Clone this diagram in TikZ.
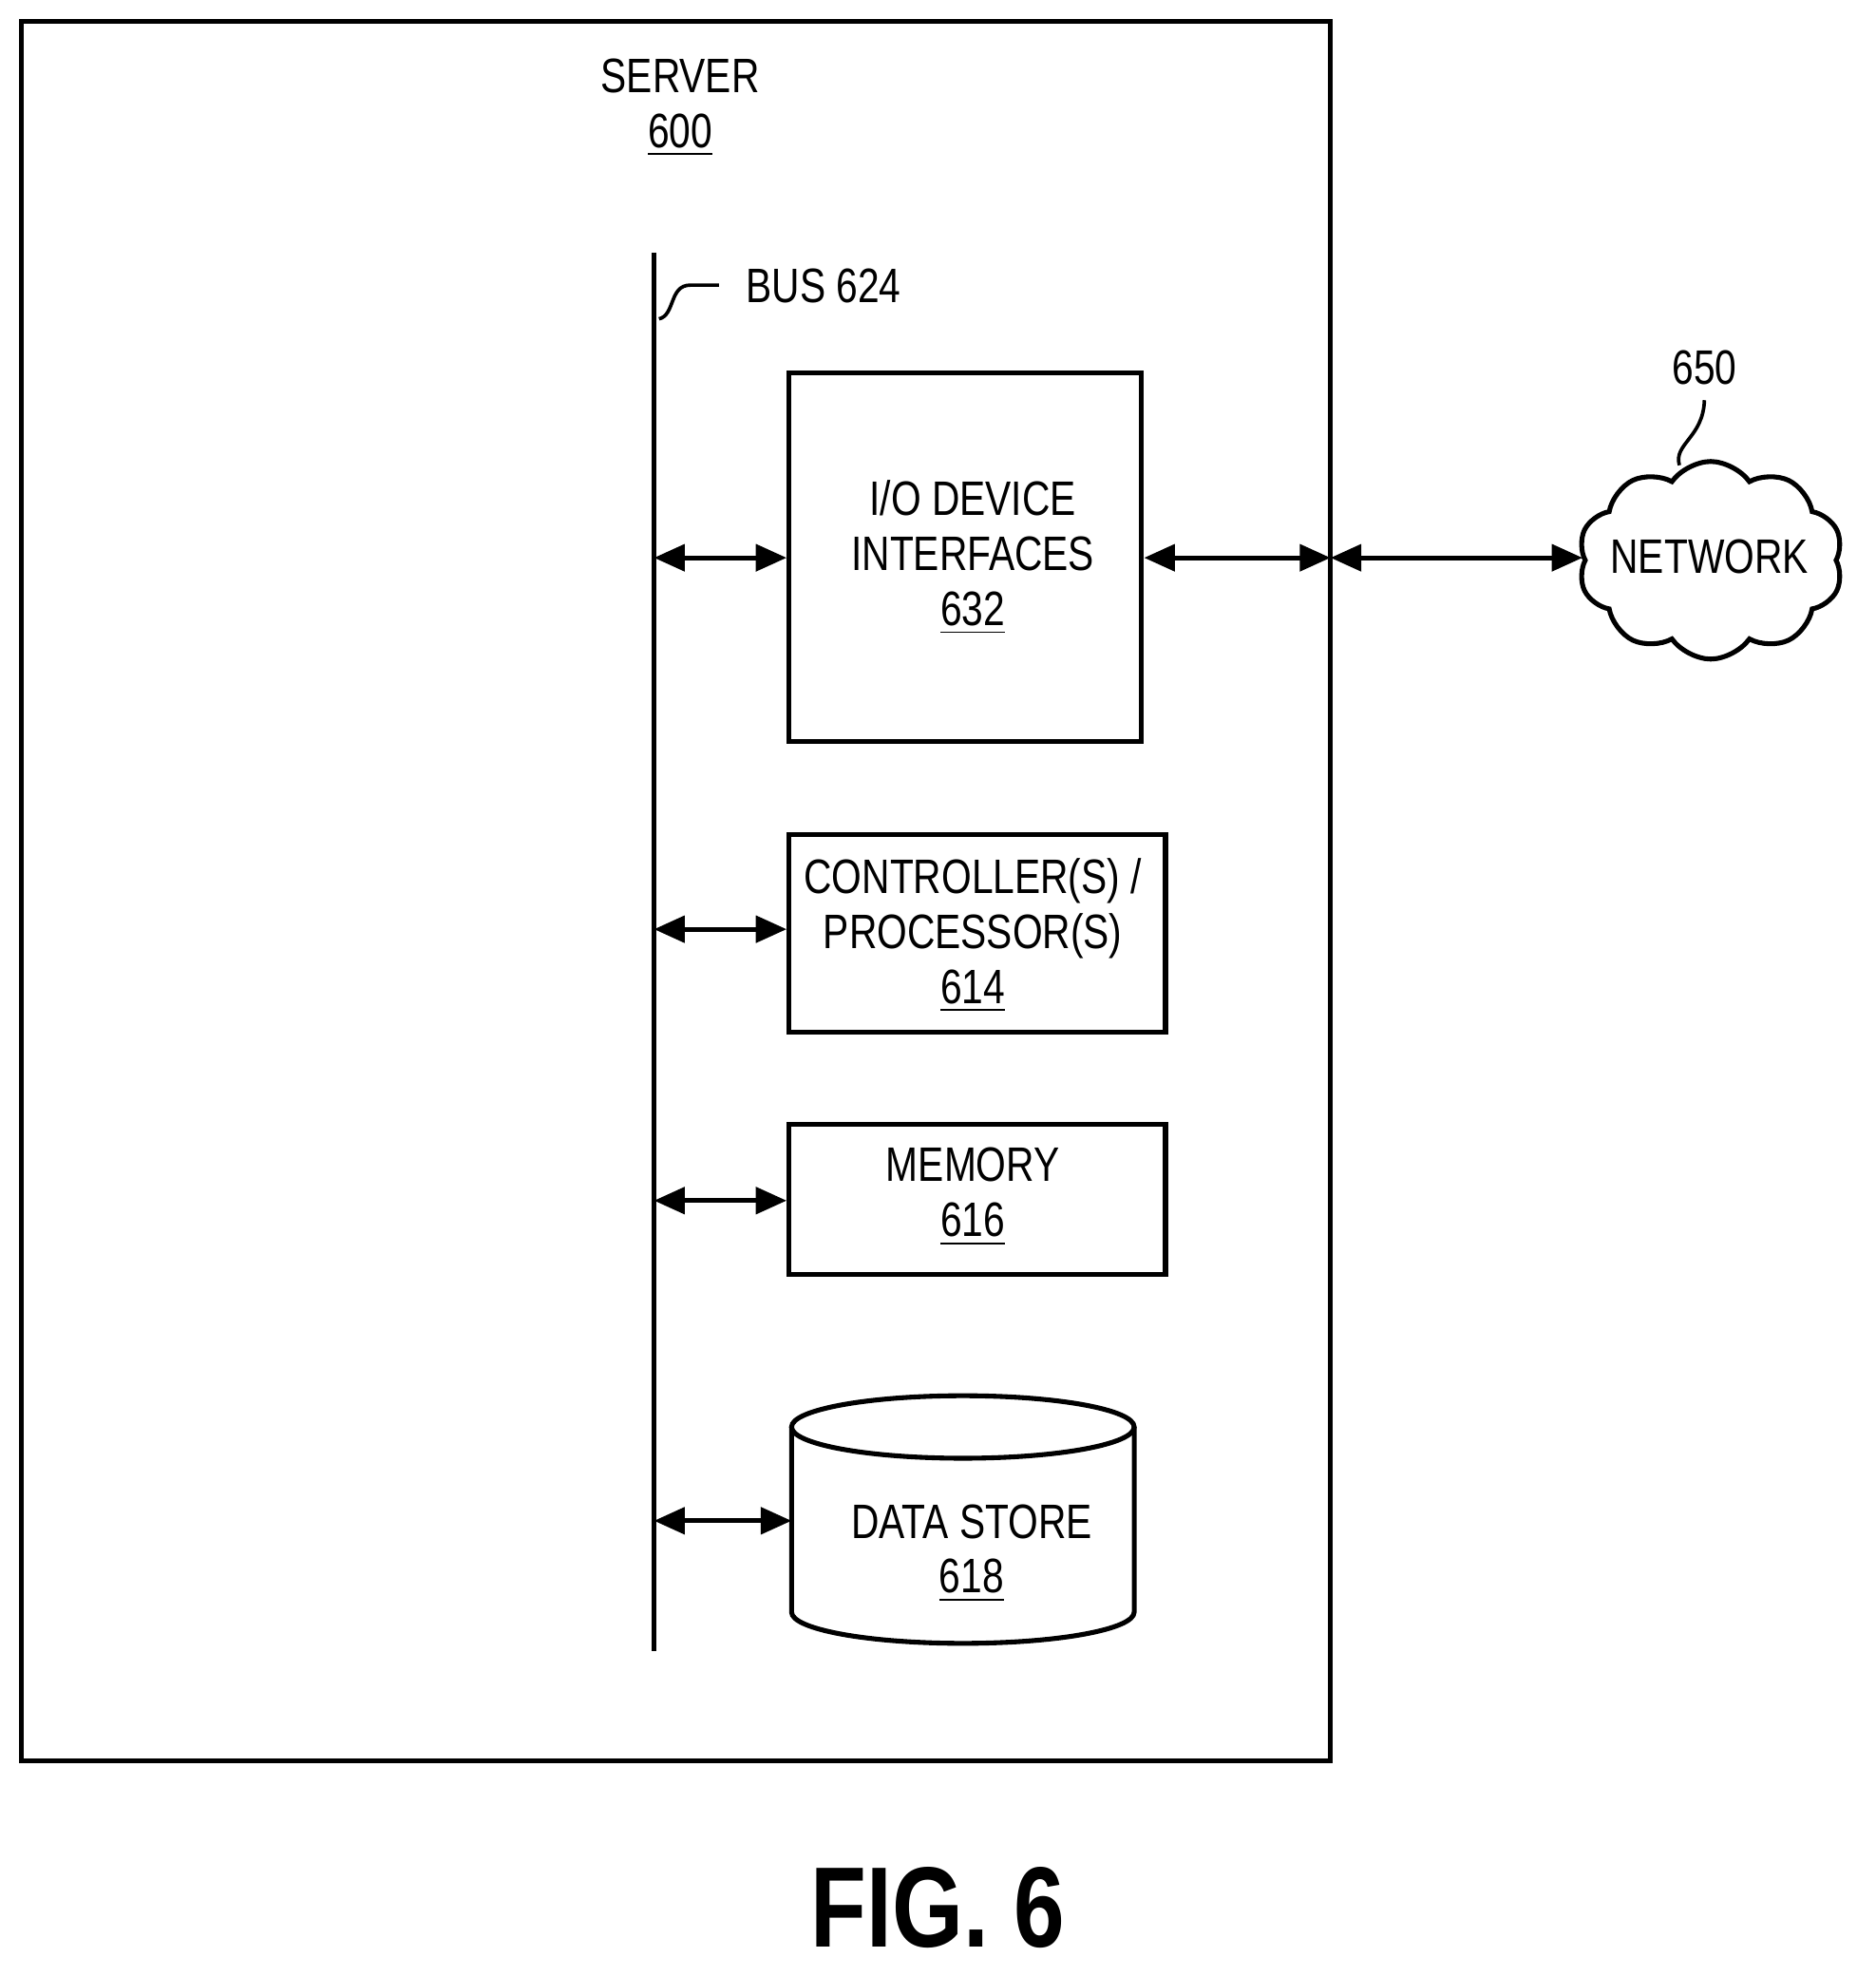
\documentclass[tikz,border=0pt]{standalone}
\usepackage{fontspec}
\setmainfont{Liberation Sans}[FakeStretch=0.8]
\usetikzlibrary{shapes.symbols,shapes.geometric,arrows.meta}
\begin{document}
\begin{tikzpicture}[x=0.01cm,y=-0.01cm,line width=1pt,
  txt/.style={font=\fontsize{11}{12.5}\selectfont,align=center,inner sep=0},
  box/.style={draw,line width=1.1pt},
  arr/.style={{Triangle[length=7pt,width=6pt]}-{Triangle[length=7pt,width=6pt]},line width=1.1pt}]
\useasboundingbox (0,0) rectangle (1500,1580);
\draw[box] (17,17) rectangle (1064,1408);
\node[txt] (server) at (544,86) {SERVER\\\underline{600}};
\coordinate (bt) at (523,202); \coordinate (bb) at (523,1320);
\draw[line width=1.1pt] (bt) -- (bb);
\node[txt,anchor=west] (bus) at (595,229) {BUS 624};
\draw[line width=0.8pt] (527,255) .. controls (540,252) and (535,228) .. (552,228) -- (575,228);
\node[box,minimum width=282*0.01cm,minimum height=295*0.01cm] (io) at (772,445.5) {};
\node[txt] at (778,446) {I/O DEVICE\\INTERFACES\\\underline{632}};
\node[box,minimum width=301*0.01cm,minimum height=158*0.01cm] (ctl) at (781.5,746) {};
\node[txt] at (778,748) {CONTROLLER(S) /\\PROCESSOR(S)\\\underline{614}};
\node[box,minimum width=301*0.01cm,minimum height=120*0.01cm] (mem) at (781.5,959) {};
\node[txt] at (778,957) {MEMORY\\\underline{616}};
\coordinate (ds) at (633,1216);
\draw[line width=1.1pt] (633,1141) -- (633,1289) arc[start angle=180,end angle=0,x radius=137,y radius=25] -- (907,1141);
\draw[line width=1.1pt] (770,1141) ellipse[x radius=137,y radius=25];
\node[txt] at (777,1242) {DATA STORE\\\underline{618}};
\node[cloud,draw,line width=1.1pt,cloud puffs=10,cloud puff arc=110,aspect=1.35,minimum width=212*0.01cm,minimum height=158*0.01cm,inner sep=0] (net) at (1368,448) {};
\node[txt] at (1367,445) {NETWORK};
\node[txt] (n650) at (1363,294) {650};
\draw[line width=0.8pt] (1343,372) .. controls (1338,355) and (1362,350) .. (1363,320);
\coordinate (w) at (1064,446);
\draw[arr] (523,446) -- (io.west |- 0,446);
\draw[arr] (io.east |- 0,446) -- (w);
\draw[arr] (w) -- (net.west |- 0,446);
\draw[arr] (523,743) -- (ctl.west |- 0,743);
\draw[arr] (523,960) -- (mem.west |- 0,960);
\draw[arr] (523,1216) -- (ds);
\node[font=\fontsize{26}{30}\selectfont\bfseries,inner sep=0] (fig) at (750,1525) {FIG. 6};
\end{tikzpicture}
\end{document}
